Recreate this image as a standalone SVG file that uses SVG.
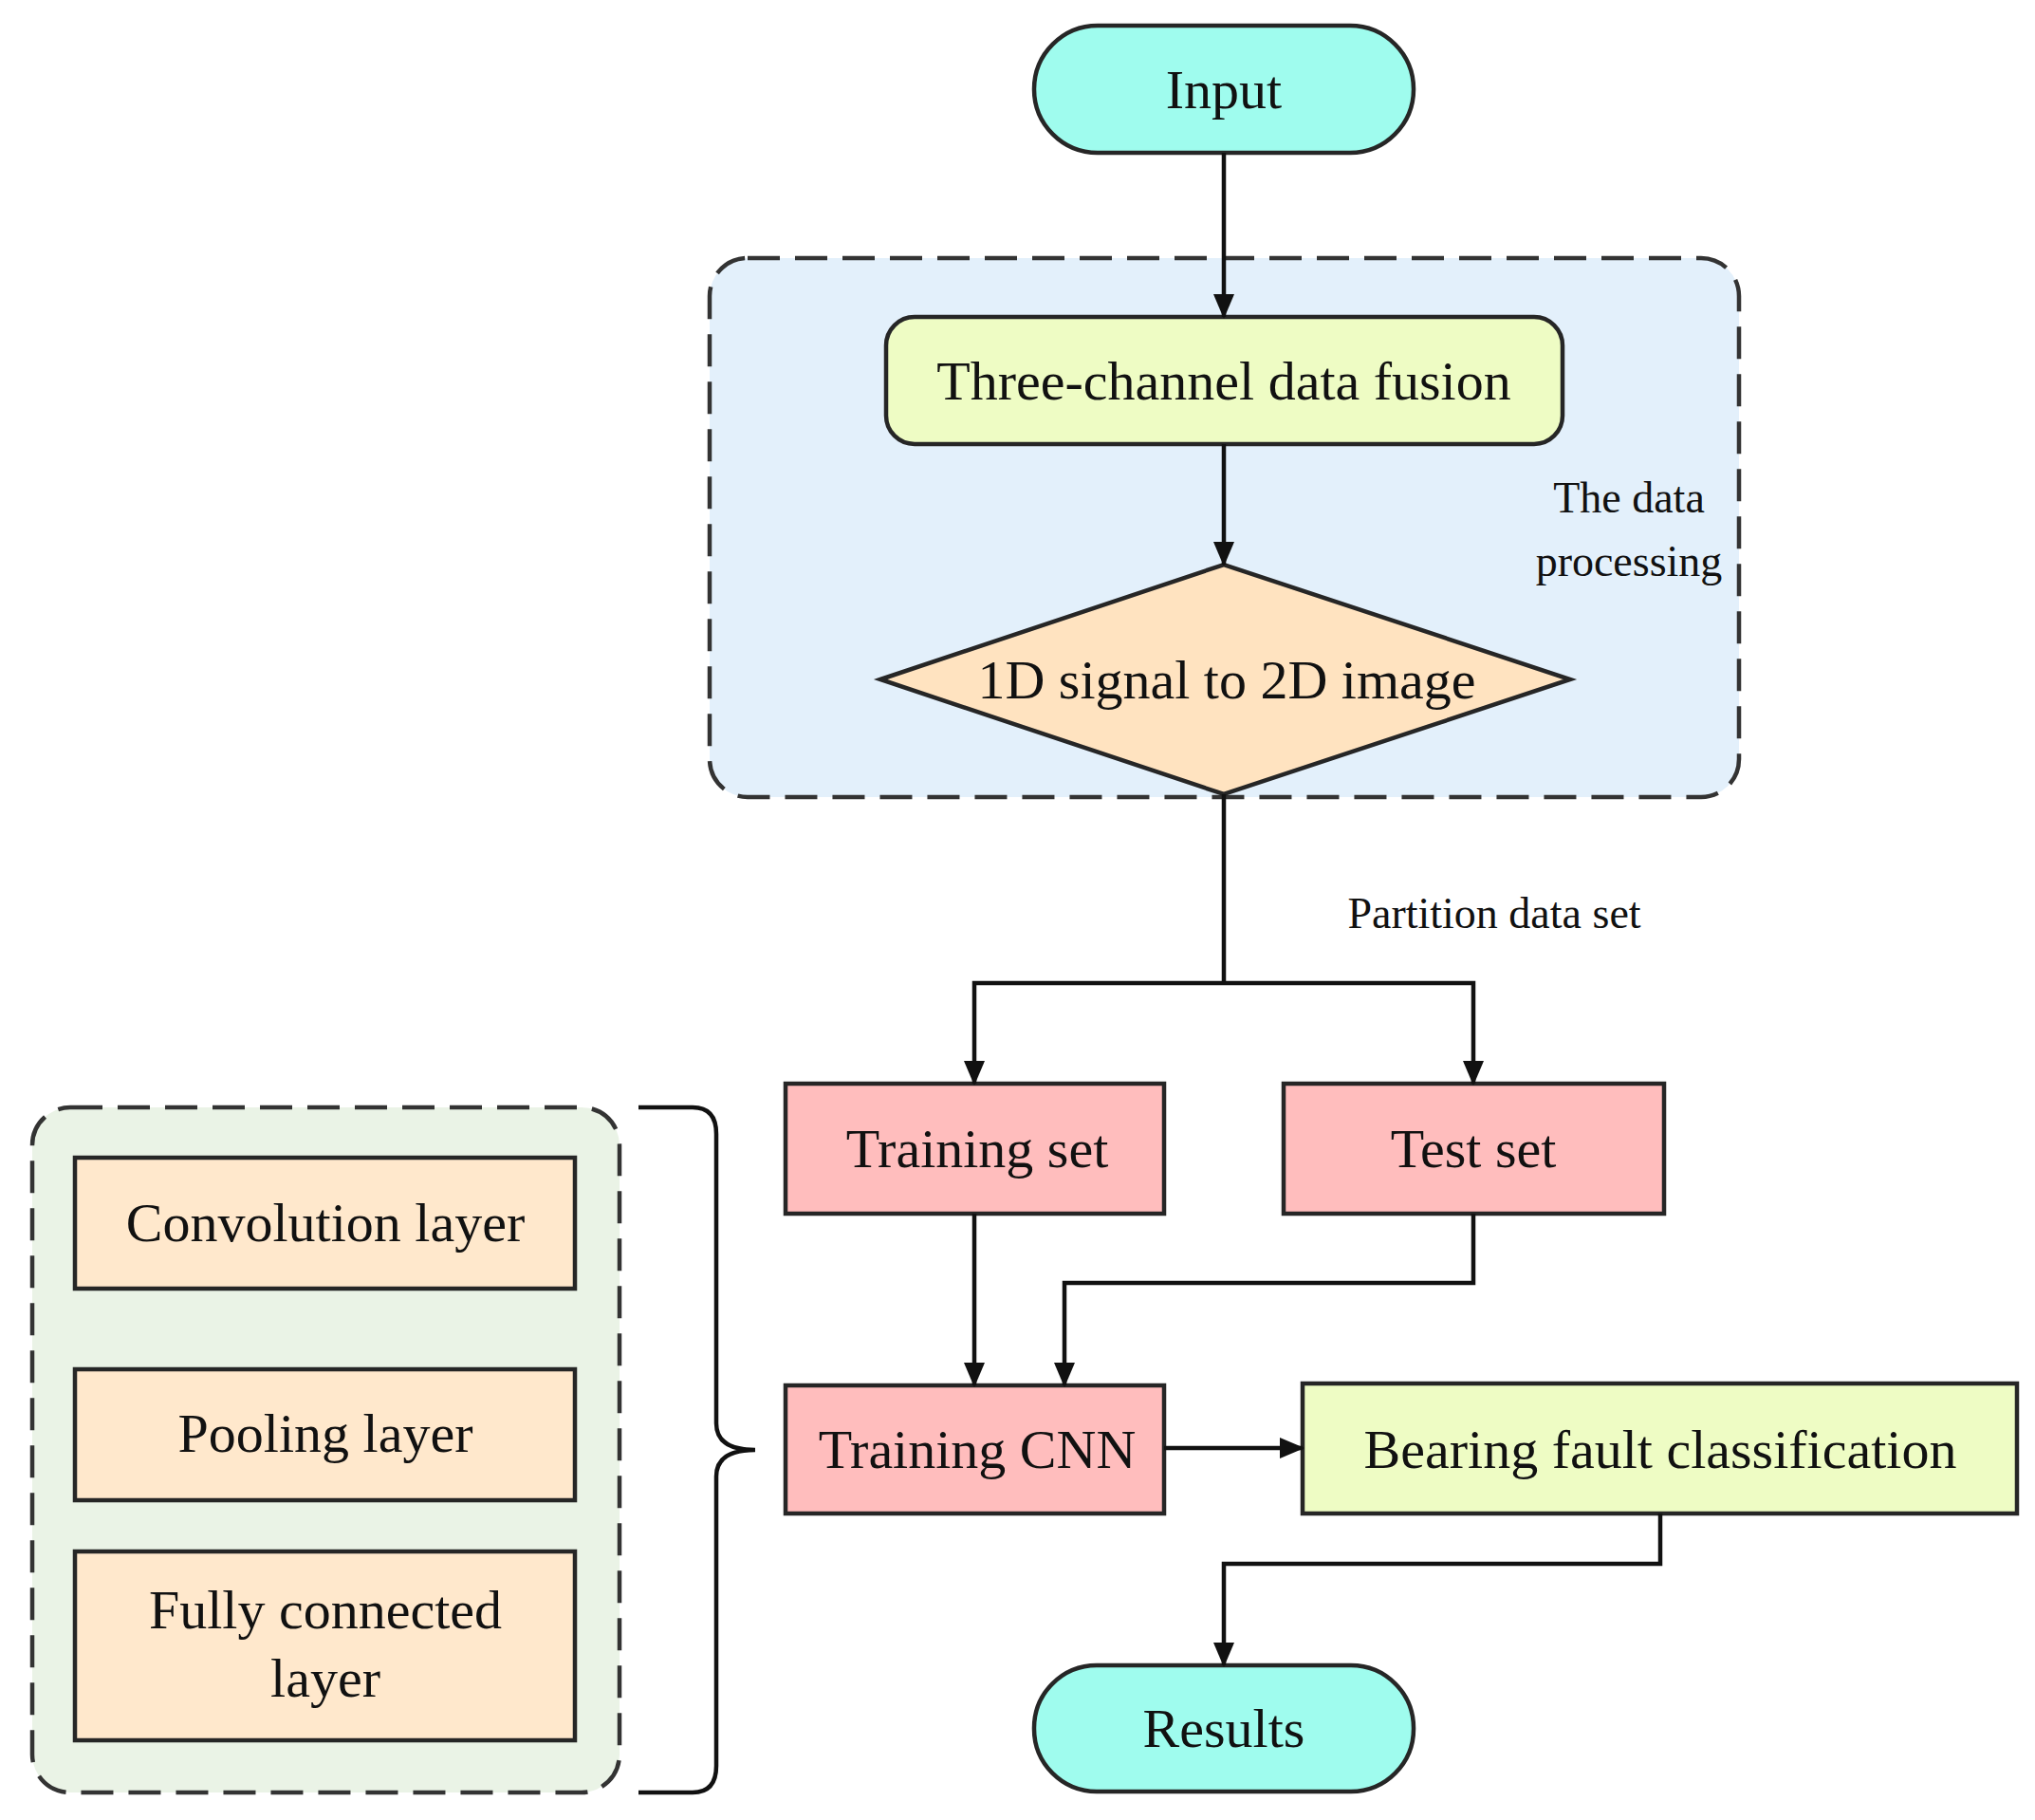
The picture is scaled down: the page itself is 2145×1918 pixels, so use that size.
<svg xmlns="http://www.w3.org/2000/svg" width="2145" height="1918" viewBox="0 0 2145 1918">
<style>
.s{stroke:#262626;stroke-width:4.5}
.t{font-family:"Liberation Serif","Times New Roman",serif;font-size:58px;fill:#111;text-anchor:middle;dominant-baseline:central}
.sm{font-size:46px}
.c{fill:none;stroke:#111;stroke-width:4.5}
</style>
<defs>
<marker id="a" markerUnits="userSpaceOnUse" markerWidth="26" markerHeight="26" refX="24" refY="13" orient="auto">
<path d="M0,2 L26,13 L0,24 Z" fill="#111"/>
</marker>
</defs>
<rect width="2145" height="1918" fill="#fff"/>
<g id="dataproc">
<rect x="748" y="272" width="1085" height="568" rx="40" fill="#E3F0FB" stroke="#333" stroke-width="4.5" stroke-dasharray="34,16"/>
<text class="t sm" x="1717" y="524">The data</text>
<text class="t sm" x="1717" y="591">processing</text>
</g>
<g id="cnnbox">
<rect x="34" y="1167" width="619" height="722" rx="40" fill="#EAF3E6" stroke="#333" stroke-width="4.5" stroke-dasharray="34,16"/>
</g>
<g id="input"><rect class="s" x="1090" y="27" width="400" height="134" rx="67" fill="#9FFCEE"/><text class="t" x="1290" y="94">Input</text></g>
<g id="fusion"><rect class="s" x="934" y="334" width="713" height="134" rx="30" fill="#EEFCC4"/><text class="t" x="1290" y="401">Three-channel data fusion</text></g>
<g id="signal"><polygon class="s" points="928,716 1290,595 1655,716 1290,837" fill="#FFE3C0"/><text class="t" x="1293" y="716">1D signal to 2D image</text></g>
<g id="trainset"><rect class="s" x="828" y="1142" width="399" height="137" fill="#FFBDBD"/><text class="t" x="1030" y="1210">Training set</text></g>
<g id="testset"><rect class="s" x="1353" y="1142" width="401" height="137" fill="#FFBDBD"/><text class="t" x="1553" y="1210">Test set</text></g>
<g id="traincnn"><rect class="s" x="828" y="1460" width="399" height="135" fill="#FFBDBD"/><text class="t" x="1030" y="1527">Training CNN</text></g>
<g id="bearing"><rect class="s" x="1373" y="1458" width="753" height="137" fill="#EEFCC4"/><text class="t" x="1750" y="1527">Bearing fault classification</text></g>
<g id="results"><rect class="s" x="1090" y="1755" width="400" height="133" rx="66" fill="#9FFCEE"/><text class="t" x="1290" y="1821">Results</text></g>
<g id="conv"><rect class="s" x="79" y="1220" width="527" height="138" fill="#FFE8CC"/><text class="t" x="343" y="1288">Convolution layer</text></g>
<g id="pool"><rect class="s" x="79" y="1443" width="527" height="138" fill="#FFE8CC"/><text class="t" x="343" y="1510">Pooling layer</text></g>
<g id="fc"><rect class="s" x="79" y="1635" width="527" height="199" fill="#FFE8CC"/><text class="t" x="343" y="1696">Fully connected</text><text class="t" x="343" y="1768">layer</text></g>
<g id="connectors">
<path class="c" d="M1290,161 V334" marker-end="url(#a)"/>
<path class="c" d="M1290,468 V595" marker-end="url(#a)"/>
<path class="c" d="M1290,837 V1036"/>
<path class="c" d="M1290,1036 H1027 V1142" marker-end="url(#a)"/>
<path class="c" d="M1290,1036 H1553 V1142" marker-end="url(#a)"/>
<text class="t sm" x="1575" y="962">Partition data set</text>
<path class="c" d="M1027,1279 V1460" marker-end="url(#a)"/>
<path class="c" d="M1553,1279 V1352 H1122 V1460" marker-end="url(#a)"/>
<path class="c" d="M1227,1526 H1373" marker-end="url(#a)"/>
<path class="c" d="M1750,1595 V1648 H1290 V1755" marker-end="url(#a)"/>
<path class="c" d="M673,1167 H730 Q755,1167 755,1195 V1500 Q755,1528 796,1528 Q755,1528 755,1556 V1861 Q755,1889 730,1889 H673"/>
</g>
</svg>
